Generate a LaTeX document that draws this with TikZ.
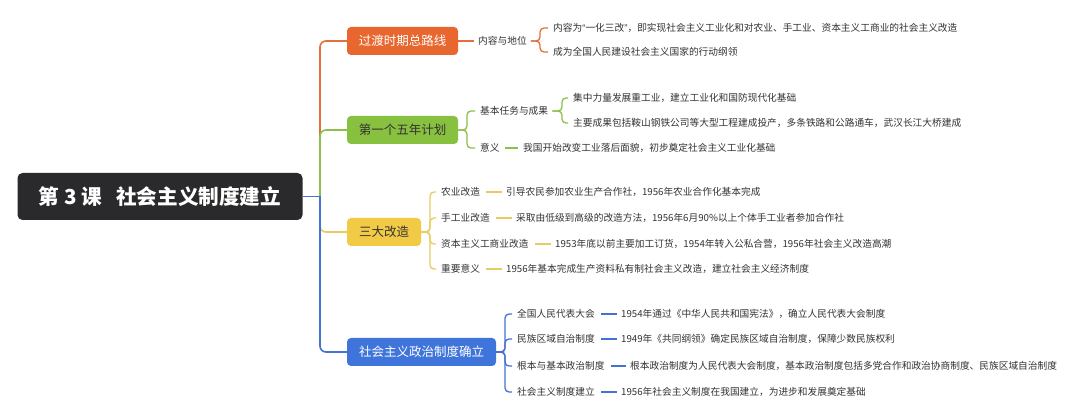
\documentclass[tikz,border=0pt]{standalone}
\usepackage{fontspec}
\setmainfont{Noto Sans CJK SC}
\newfontfamily\latf{Liberation Sans}
\usetikzlibrary{calc}
\definecolor{rootc}{HTML}{2A2A2C}
\definecolor{orbox}{HTML}{E8672F}
\definecolor{grbox}{HTML}{88C140}
\definecolor{yebox}{HTML}{F2CB46}
\definecolor{blbox}{HTML}{3F74DA}
\definecolor{orln}{HTML}{E2703C}
\definecolor{grln}{HTML}{8DC04A}
\definecolor{yeln}{HTML}{E8CB62}
\definecolor{blln}{HTML}{4471D4}
\definecolor{txt}{HTML}{333333}
\tikzset{
  rootbox/.style={fill=rootc, text=white, rounded corners=5pt, minimum width=285pt, minimum height=47pt, inner sep=0pt, font=\fontsize{20.6}{23}\selectfont\bfseries},
  mainbox/.style={rounded corners=4pt, minimum height=28pt, inner sep=0pt, font=\fontsize{12.5}{14}\selectfont},
  lab/.style={anchor=west, inner sep=0pt, text=txt, font=\fontsize{9.7}{11}\selectfont},
  leaf/.style={anchor=west, inner sep=0pt, text=txt, font=\fontsize{9.7}{11}\selectfont},
  mainln/.style={line width=1.6pt},
  subln/.style={line width=1.3pt, rounded corners=4pt},
}
\begin{document}
\begin{tikzpicture}[x=1pt,y=-1pt]
\useasboundingbox[fill=white] (0,0) rectangle (1080,419);
% root
\node[rootbox] (root) at (160,196.5) {第 3 课\hspace{0.7em}社会主义制度建立};
\coordinate (T) at (320,0);
% main boxes
\node[mainbox, fill=orbox, text=white, minimum width=111pt] (b1) at (402.5,41) {过渡时期总路线};
\node[mainbox, fill=grbox, text=txt, minimum width=111pt] (b2) at (402.5,130) {第一个五年计划};
\node[mainbox, fill=yebox, text=txt, minimum width=74pt] (b3) at (384,232) {三大改造};
\node[mainbox, fill=blbox, text=white, minimum width=149pt] (b4) at (421.5,352) {社会主义政治制度确立};
% trunk connectors
\draw[mainln, orln, rounded corners=6pt] (root.east -| T) |- (b1.west);
\draw[mainln, grln, rounded corners=6pt] (root.east -| T) |- (b2.west);
\draw[mainln, yeln, rounded corners=6pt] (root.east -| T) |- (b3.west);
\draw[mainln, blln, rounded corners=6pt] (root.east -| T) |- (b4.west);
\draw[mainln, blln] (root.east) -- ([xshift=0.8pt]root.east -| T);

% ---------- branch 1
\node[lab] (l1) at (478,41) {内容与地位};
\node[leaf] (c11) at (553,28) {内容为{\latf“}一化三改{\latf”}，即实现社会主义工业化和对农业、手工业、资本主义工商业的社会主义改造};
\node[leaf] (c12) at (553,52) {成为全国人民建设社会主义国家的行动纲领};
\draw[subln, orln] (b1.east) -- ([xshift=-4pt]l1.west);
\coordinate (k1) at (540,0);
\draw[subln, orln] ([xshift=4pt]l1.east) -- (l1.east -| k1) |- ([xshift=-5pt]c11.west);
\draw[subln, orln] ([xshift=4pt]l1.east) -- (l1.east -| k1) |- ([xshift=-5pt]c12.west);

% ---------- branch 2
\node[lab] (l2a) at (480,111) {基本任务与成果};
\node[lab] (l2b) at (480,148) {意义};
\coordinate (k2) at (467,0);
\draw[subln, grln] (b2.east) -- (b2.east -| k2) |- ([xshift=-5pt]l2a.west);
\draw[subln, grln] (b2.east) -- (b2.east -| k2) |- ([xshift=-5pt]l2b.west);
\node[leaf] (c21) at (573,98) {集中力量发展重工业，建立工业化和国防现代化基础};
\node[leaf] (c22) at (573,123) {主要成果包括鞍山钢铁公司等大型工程建成投产，多条铁路和公路通车，武汉长江大桥建成};
\coordinate (k2a) at (562,0);
\draw[subln, grln] ([xshift=4pt]l2a.east) -- (l2a.east -| k2a) |- ([xshift=-5pt]c21.west);
\draw[subln, grln] ([xshift=4pt]l2a.east) -- (l2a.east -| k2a) |- ([xshift=-5pt]c22.west);
\node[leaf] (c23) at (523,148) {我国开始改变工业落后面貌，初步奠定社会主义工业化基础};
\draw[subln, grln] ([xshift=5pt]l2b.east) -- ([xshift=-5pt]c23.west);

% ---------- branch 3
\coordinate (k3) at (430,0);
\node[lab] (l31) at (441,192) {农业改造};
\node[lab] (l32) at (441,218) {手工业改造};
\node[lab] (l33) at (441,244) {资本主义工商业改造};
\node[lab] (l34) at (441,269) {重要意义};
\foreach \n in {l31,l32,l33,l34}
  \draw[subln, yeln] (b3.east) -- (b3.east -| k3) |- ([xshift=-5pt]\n.west);
\node[leaf] (c31) at (506,192) {引导农民参加农业生产合作社，1956年农业合作化基本完成};
\node[leaf] (c32) at (516,218) {采取由低级到高级的改造方法，1956年6月90\%以上个体手工业者参加合作社};
\node[leaf] (c33) at (555,244) {1953年底以前主要加工订货，1954年转入公私合营，1956年社会主义改造高潮};
\node[leaf] (c34) at (506,269) {1956年基本完成生产资料私有制社会主义改造，建立社会主义经济制度};
\draw[subln, yeln] ([xshift=6pt]l31.east) -- ([xshift=-4pt]c31.west);
\draw[subln, yeln] ([xshift=6pt]l32.east) -- ([xshift=-4pt]c32.west);
\draw[subln, yeln] ([xshift=6pt]l33.east) -- ([xshift=-4pt]c33.west);
\draw[subln, yeln] ([xshift=6pt]l34.east) -- ([xshift=-4pt]c34.west);

% ---------- branch 4
\coordinate (k4) at (505,0);
\node[lab] (l41) at (517,314) {全国人民代表大会};
\node[lab] (l42) at (517,339) {民族区域自治制度};
\node[lab] (l43) at (517,366) {根本与基本政治制度};
\node[lab] (l44) at (517,392) {社会主义制度建立};
\foreach \n in {l41,l42,l43,l44}
  \draw[subln, blln] (b4.east) -- (b4.east -| k4) |- ([xshift=-5pt]\n.west);
\node[leaf] (c41) at (621,314) {1954年通过《中华人民共和国宪法》，确立人民代表大会制度};
\node[leaf] (c42) at (621,339) {1949年《共同纲领》确定民族区域自治制度，保障少数民族权利};
\node[leaf] (c43) at (630,366) {根本政治制度为人民代表大会制度，基本政治制度包括多党合作和政治协商制度、民族区域自治制度};
\node[leaf] (c44) at (621,392) {1956年社会主义制度在我国建立，为进步和发展奠定基础};
\draw[subln, blln] ([xshift=6pt]l41.east) -- ([xshift=-4pt]c41.west);
\draw[subln, blln] ([xshift=6pt]l42.east) -- ([xshift=-4pt]c42.west);
\draw[subln, blln] ([xshift=6pt]l43.east) -- ([xshift=-4pt]c43.west);
\draw[subln, blln] ([xshift=6pt]l44.east) -- ([xshift=-4pt]c44.west);
\end{tikzpicture}
\end{document}
